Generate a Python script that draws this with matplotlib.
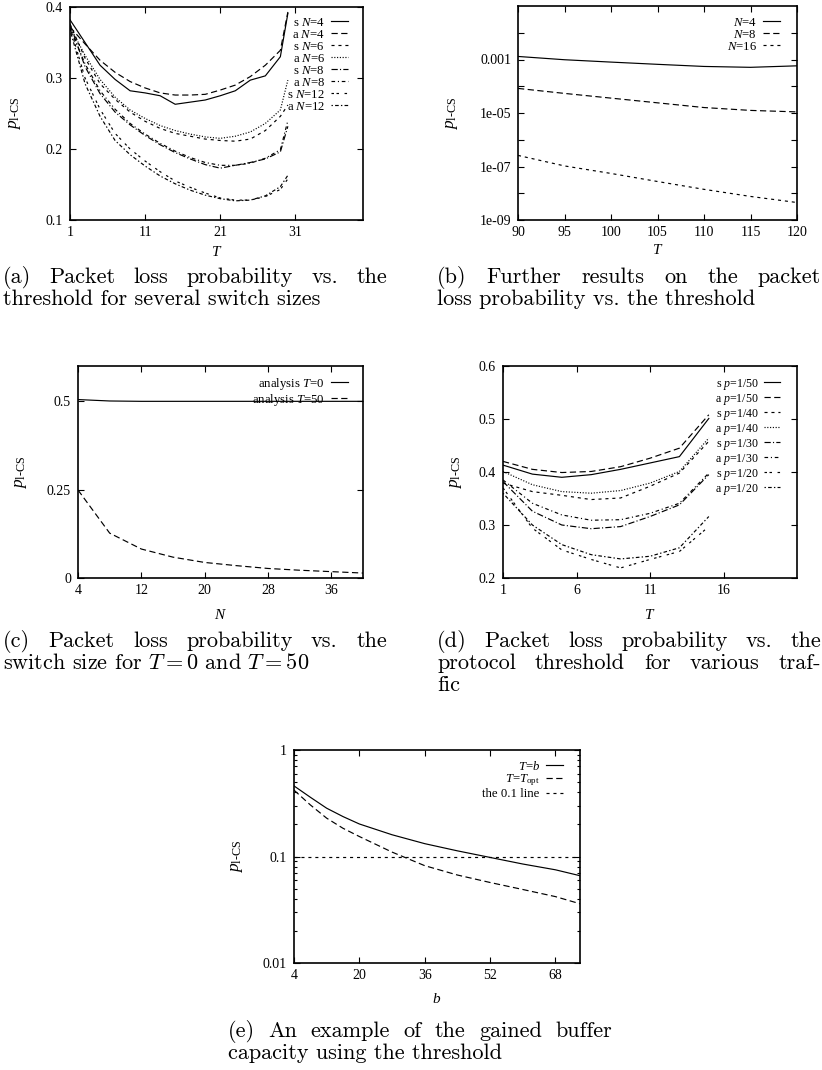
import matplotlib
matplotlib.use("Agg")
import matplotlib.pyplot as plt
from matplotlib.ticker import LogLocator, NullFormatter

plt.rcParams["font.family"] = "Liberation Serif"
plt.rcParams["mathtext.fontset"] = "custom"
plt.rcParams["mathtext.rm"] = "Liberation Serif"
plt.rcParams["mathtext.it"] = "Liberation Serif:italic"
plt.rcParams["lines.scale_dashes"] = False

# (a) packet loss vs threshold, several switch sizes
a_T = [1, 3, 5, 7, 9, 11, 13, 15, 17, 19, 21, 23, 25, 27, 29, 30]
a_s4 = [0.382, 0.350, 0.318, 0.298, 0.282, 0.279, 0.275, 0.263, 0.266, 0.269, 0.275, 0.282, 0.297, 0.303, 0.330, 0.391]
a_a4 = [0.372, 0.348, 0.325, 0.308, 0.295, 0.286, 0.279, 0.276, 0.276, 0.277, 0.283, 0.290, 0.302, 0.318, 0.339, 0.393]
a_s6 = [0.376, 0.328, 0.292, 0.270, 0.252, 0.239, 0.229, 0.222, 0.218, 0.214, 0.212, 0.211, 0.214, 0.226, 0.246, 0.262]
a_a6 = [0.372, 0.332, 0.298, 0.273, 0.255, 0.243, 0.233, 0.226, 0.221, 0.217, 0.215, 0.218, 0.224, 0.236, 0.255, 0.297]
a_s8 = [0.376, 0.316, 0.278, 0.252, 0.234, 0.219, 0.206, 0.195, 0.186, 0.178, 0.173, 0.177, 0.181, 0.186, 0.196, 0.232]
a_a8 = [0.370, 0.320, 0.282, 0.256, 0.236, 0.221, 0.208, 0.197, 0.188, 0.181, 0.177, 0.177, 0.180, 0.187, 0.199, 0.240]
a_s12 = [0.372, 0.300, 0.256, 0.222, 0.200, 0.183, 0.168, 0.155, 0.146, 0.138, 0.131, 0.128, 0.128, 0.133, 0.143, 0.158]
a_a12 = [0.368, 0.292, 0.246, 0.212, 0.192, 0.176, 0.162, 0.151, 0.142, 0.135, 0.130, 0.127, 0.128, 0.134, 0.147, 0.163]

# (b) larger thresholds, log scale
b_T = [90, 95, 100, 105, 110, 115, 120]
b_n4 = [1.3e-3, 9.8e-4, 8.0e-4, 6.6e-4, 5.5e-4, 5.1e-4, 5.8e-4]
b_n8 = [8.3e-5, 5.4e-5, 3.6e-5, 2.4e-5, 1.6e-5, 1.25e-5, 1.1e-5]
b_n16 = [2.6e-7, 1.05e-7, 5.5e-8, 2.75e-8, 1.4e-8, 7.6e-9, 4.5e-9]

# (c) loss vs switch size
c_N = [4, 8, 12, 16, 20, 24, 28, 32, 36, 40]
c_t0 = [0.505, 0.501, 0.500, 0.500, 0.500, 0.500, 0.500, 0.500, 0.500, 0.500]
c_t50 = [0.249, 0.127, 0.082, 0.059, 0.044, 0.035, 0.027, 0.022, 0.018, 0.014]

# (d) loss vs threshold, various traffic
d_T = [1, 3, 5, 7, 9, 11, 13, 15]
d_s50 = [0.413, 0.396, 0.390, 0.395, 0.405, 0.417, 0.429, 0.501]
d_a50 = [0.420, 0.405, 0.399, 0.401, 0.410, 0.426, 0.445, 0.508]
d_s40 = [0.379, 0.363, 0.356, 0.348, 0.351, 0.373, 0.398, 0.458]
d_a40 = [0.401, 0.376, 0.363, 0.360, 0.365, 0.379, 0.401, 0.464]
d_s30 = [0.382, 0.326, 0.300, 0.293, 0.297, 0.316, 0.338, 0.395]
d_a30 = [0.385, 0.341, 0.319, 0.309, 0.310, 0.322, 0.341, 0.398]
d_s20 = [0.370, 0.294, 0.253, 0.235, 0.219, 0.235, 0.250, 0.297]
d_a20 = [0.360, 0.300, 0.263, 0.244, 0.236, 0.241, 0.257, 0.316]

# (e) gained buffer capacity
e_b = [4, 8, 12, 16, 20, 28, 36, 44, 52, 60, 68, 74]
e_tb = [0.46, 0.36, 0.284, 0.237, 0.202, 0.160, 0.132, 0.113, 0.098, 0.085, 0.075, 0.066]
e_topt = [0.42, 0.305, 0.229, 0.184, 0.154, 0.110, 0.082, 0.067, 0.057, 0.049, 0.042, 0.036]
e_level = 0.1

# gnuplot-like line types (points)
LT = ["-", (0, (4.5, 2.5)), (0, (2.2, 2.8)), (0, (0.8, 1.2)),
      (0, (4.5, 1.6, 0.8, 1.6)), (0, (2.6, 2.0, 0.8, 2.0)),
      (0, (1.8, 1.8, 1.8, 4.0)), (0, (1.0, 1.6, 2.6, 1.6))]
LW = 0.85

W, H = 822, 1070
fig = plt.figure(figsize=(W / 100, H / 100), dpi=100)
ylab = r"$p_{\mathrm{l\text{-}CS}}$"


def box(left, top, right, bottom):
    return fig.add_axes([left / W, 1 - bottom / H, (right - left) / W, (bottom - top) / H])


def style(ax, xlabel, xl, yl):
    ax.tick_params(which="both", direction="in", top=True, right=True, labelsize=10, width=0.8)
    ax.tick_params(axis="x", pad=4)
    ax.tick_params(axis="y", pad=5)
    ax.tick_params(which="major", length=4.5)
    ax.tick_params(which="minor", length=2.5)
    for s in ax.spines.values():
        s.set_linewidth(1.2)
    ax.set_xlabel(xlabel, fontsize=11)
    ax.set_ylabel(ylab, fontsize=12.5)
    ax.xaxis.set_label_coords(0.5, xl)
    ax.yaxis.set_label_coords(yl, 0.5)


def legend(ax, x, y, size=9.2, hl=1.3, pad=0.5, sp=0.0):
    ax.legend(loc="upper right", bbox_to_anchor=(x, y), frameon=False, markerfirst=False,
              fontsize=size, handlelength=hl, handletextpad=pad, labelspacing=sp,
              borderaxespad=0, borderpad=0)


# (a)
ax = box(70, 7, 363, 220)
series = [(a_s4, "s $N$=4"), (a_a4, "a $N$=4"), (a_s6, "s $N$=6"), (a_a6, "a $N$=6"),
          (a_s8, "s $N$=8"), (a_a8, "a $N$=8"), (a_s12, "s $N$=12"), (a_a12, "a $N$=12")]
for i, (v, lab) in enumerate(series):
    ax.plot(a_T, v, color="black", lw=LW, linestyle=LT[i], label=lab)
ax.set_xlim(1, 40)
ax.set_ylim(0.1, 0.4)
ax.set_xticks([1, 11, 21, 31])
ax.set_yticks([0.1, 0.2, 0.3, 0.4])
style(ax, "$T$", -0.117, -0.16)
legend(ax, 0.949, 0.955)

# (b)
ax = box(518, 6, 797, 220)
for i, (v, lab) in enumerate([(b_n4, "$N$=4"), (b_n8, "$N$=8"), (b_n16, "$N$=16")]):
    ax.plot(b_T, v, color="black", lw=LW, linestyle=LT[i], label=lab)
ax.set_yscale("log")
ax.set_xlim(90, 120)
ax.set_ylim(1e-9, 1e-1)
ax.set_xticks([90, 95, 100, 105, 110, 115, 120])
ax.set_yticks([1e-9, 1e-7, 1e-5, 1e-3], ["1e-09", "1e-07", "1e-05", "0.001"])
ax.set_yticks([1e-8, 1e-6, 1e-4, 1e-2], minor=True)
ax.yaxis.set_minor_formatter(NullFormatter())
style(ax, "$T$", -0.107, -0.208)
ax.tick_params(which="minor", length=4.5)
legend(ax, 0.939, 0.95)

# (c)
ax = box(78, 366, 363, 578)
ax.plot(c_N, c_t0, color="black", lw=LW, linestyle=LT[0], label="analysis $T$=0")
ax.plot(c_N, c_t50, color="black", lw=LW, linestyle=LT[1], label="analysis $T$=50")
ax.set_xlim(4, 40)
ax.set_ylim(0, 0.6)
ax.set_xticks([4, 12, 20, 28, 36])
ax.set_yticks([0, 0.25, 0.5], ["0", "0.25", "0.5"])
style(ax, "$N$", -0.142, -0.172)
legend(ax, 0.947, 0.955)

# (d)
ax = box(503, 366, 797, 578)
series = [(d_s50, "s $p$=1/50"), (d_a50, "a $p$=1/50"), (d_s40, "s $p$=1/40"), (d_a40, "a $p$=1/40"),
          (d_s30, "s $p$=1/30"), (d_a30, "a $p$=1/30"), (d_s20, "s $p$=1/20"), (d_a20, "a $p$=1/20")]
for i, (v, lab) in enumerate(series):
    ax.plot(d_T, v, color="black", lw=LW, linestyle=LT[i], label=lab)
ax.set_xlim(1, 21)
ax.set_ylim(0.2, 0.6)
ax.set_xticks([1, 6, 11, 16])
ax.set_yticks([0.2, 0.3, 0.4, 0.5, 0.6])
style(ax, "$T$", -0.142, -0.133)
legend(ax, 0.942, 0.95, size=8.6)

# (e)
ax = box(294, 750, 580, 963)
ax.plot(e_b, e_tb, color="black", lw=LW, linestyle=LT[0], label="$T$=$b$")
ax.plot(e_b, e_topt, color="black", lw=LW, linestyle=LT[1], label=r"$T$=$T_{\mathrm{opt}}$")
ax.axhline(e_level, color="black", lw=LW, linestyle=LT[2], label="the 0.1 line")
ax.set_yscale("log")
ax.set_xlim(4, 74)
ax.set_ylim(0.01, 1)
ax.set_xticks([4, 20, 36, 52, 68])
ax.set_yticks([0.01, 0.1, 1], ["0.01", "0.1", "1"])
ax.yaxis.set_minor_locator(LogLocator(base=10, subs=range(2, 10)))
ax.yaxis.set_minor_formatter(NullFormatter())
style(ax, "$b$", -0.136, -0.171)
legend(ax, 0.94, 0.955)

# captions, justified like LaTeX
renderer = fig.canvas.get_renderer()


def caption(x0, base, lines, width=384, size=16, lead=22):
    for i, line in enumerate(lines):
        y = 1 - (base + i * lead) / H
        if i == len(lines) - 1:
            fig.text(x0 / W, y, line, family="cmr10", math_fontfamily="cm", fontsize=size, va="baseline")
            continue
        words = line.split()
        ts = [fig.text(0, y, w, family="cmr10", fontsize=size, va="baseline") for w in words]
        ws = [t.get_window_extent(renderer).width for t in ts]
        gap = (width - sum(ws)) / (len(ws) - 1)
        x = x0
        for t, w in zip(ts, ws):
            t.set_x(x / W)
            x += w + gap


caption(3, 283, ["(a) Packet loss probability vs. the", "threshold for several switch sizes"])
caption(437, 283, ["(b) Further results on the packet", "loss probability vs. the threshold"])
caption(3, 647, ["(c) Packet loss probability vs. the", "switch size for $T = 0$ and $T = 50$"])
caption(437, 647, ["(d) Packet loss probability vs. the", "protocol threshold for various traf-", "fic"])
caption(228, 1037, ["(e) An example of the gained buffer", "capacity using the threshold"])

fig.savefig("out.png", dpi=100)
